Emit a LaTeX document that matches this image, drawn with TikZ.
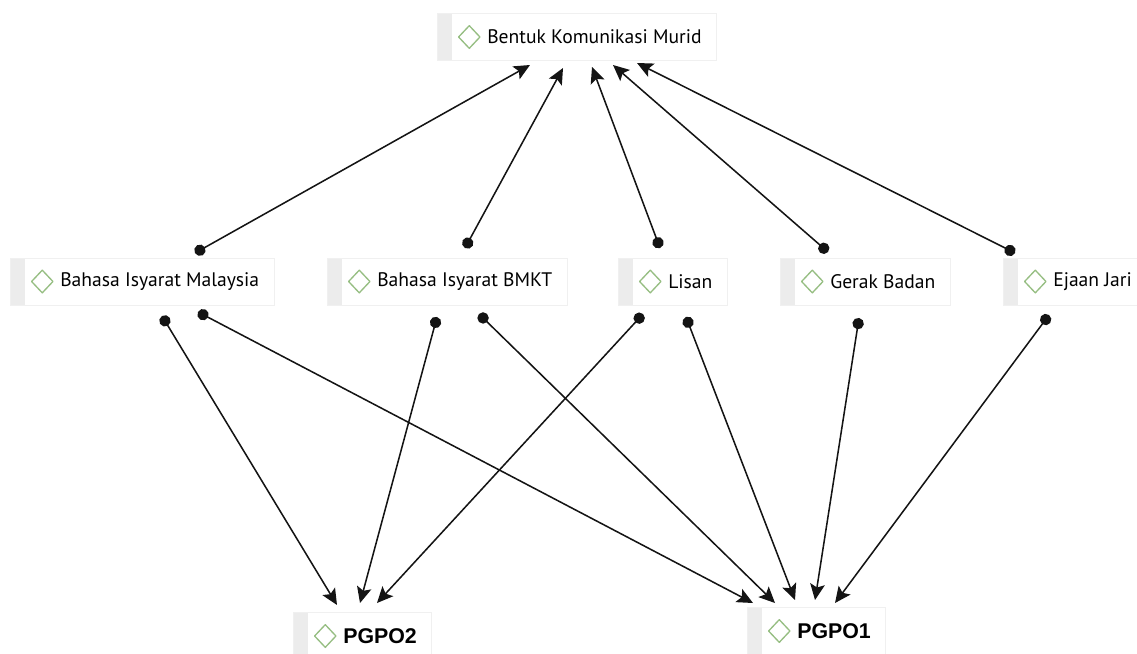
\documentclass[tikz,border=0pt]{standalone}
\usepackage{fontspec}
\setmainfont{PT Sans}
\newfontfamily\pgpofont{Liberation Sans}
\usetikzlibrary{arrows.meta}
\definecolor{diagreen}{RGB}{150,190,130}
\definecolor{stripegray}{RGB}{236,236,236}
\definecolor{linkgray}{RGB}{20,20,20}
\newcommand{\lbl}[1]{\hspace*{26.5pt}#1}
\tikzset{
  kotak/.style={rectangle, draw=gray!12, fill=white, anchor=west,
    minimum height=35pt, inner xsep=11pt, inner ysep=0pt,
    font=\fontsize{14.7}{17}\selectfont, text=black,
    path picture={
      \fill[stripegray] (path picture bounding box.south west) rectangle ([xshift=11pt]path picture bounding box.north west);
      \draw[diagreen, line width=1pt, line join=round] ([xshift=16pt]path picture bounding box.west)
        --++(8pt,8.5pt) --++(8pt,-8.5pt) --++(-8pt,-8.5pt) -- cycle;}},
  kotakpgpo/.style={kotak, minimum height=36pt, font=\pgpofont\bfseries\fontsize{16}{18}\selectfont},
  link/.style={linkgray, line width=1.15pt, {Circle[length=8.5pt]}-{Stealth[length=12pt,width=11pt,inset=2.5pt]}}
}
\begin{document}
\begin{tikzpicture}[x=0.75pt, y=-0.75pt, line cap=round]
  \useasboundingbox (0,0) rectangle (1137,653);
  % nodes
  \node[kotak] (bkm) at (437,37) {\lbl{Bentuk Komunikasi Murid}};
  \node[kotak] (bim) at (10,281.5) {\lbl{Bahasa Isyarat Malaysia}};
  \node[kotak] (bmkt) at (327,281.5) {\lbl{Bahasa Isyarat BMKT}};
  \node[kotak] (lisan) at (618,281.5) {\lbl{Lisan}};
  \node[kotak] (gerak) at (780,281.5) {\lbl{Gerak Badan}};
  \node[kotak] (ejaan) at (1003,281.5) {\lbl{Ejaan Jari}};
  \node[kotakpgpo] (pgpo2) at (293,636) {\lbl{PGPO2}};
  \node[kotakpgpo] (pgpo1) at (747,631) {\lbl{PGPO1}};
  % connector ends
  \path (530,65) coordinate (bkm-1) (563,68) coordinate (bkm-2) (592,67) coordinate (bkm-3)
        (613,65) coordinate (bkm-4) (637,63) coordinate (bkm-5)
        (195,253) coordinate (bim-a) (162,316) coordinate (bim-b) (198,312) coordinate (bim-c)
        (465,248) coordinate (bmkt-a) (437,317) coordinate (bmkt-b) (479,314) coordinate (bmkt-c)
        (660,248) coordinate (lisan-a) (643,314) coordinate (lisan-b) (686,317) coordinate (lisan-c)
        (828,252) coordinate (gerak-a) (859,318) coordinate (gerak-b)
        (1015,253) coordinate (ejaan-a) (1049,315) coordinate (ejaan-b)
        (337,605) coordinate (pgpo2-1) (360,603) coordinate (pgpo2-2) (377,603) coordinate (pgpo2-3)
        (753,603) coordinate (pgpo1-1) (775,603) coordinate (pgpo1-2) (795,600) coordinate (pgpo1-3)
        (815,600) coordinate (pgpo1-4) (835,603) coordinate (pgpo1-5);
  % connectors
  \foreach \s/\t in {bim-a/bkm-1, bmkt-a/bkm-2, lisan-a/bkm-3, gerak-a/bkm-4, ejaan-a/bkm-5,
      bim-b/pgpo2-1, bmkt-b/pgpo2-2, lisan-b/pgpo2-3,
      bim-c/pgpo1-1, bmkt-c/pgpo1-2, lisan-c/pgpo1-3, gerak-b/pgpo1-4, ejaan-b/pgpo1-5}
    \draw[link] (\s) -- (\t);
\end{tikzpicture}
\end{document}
